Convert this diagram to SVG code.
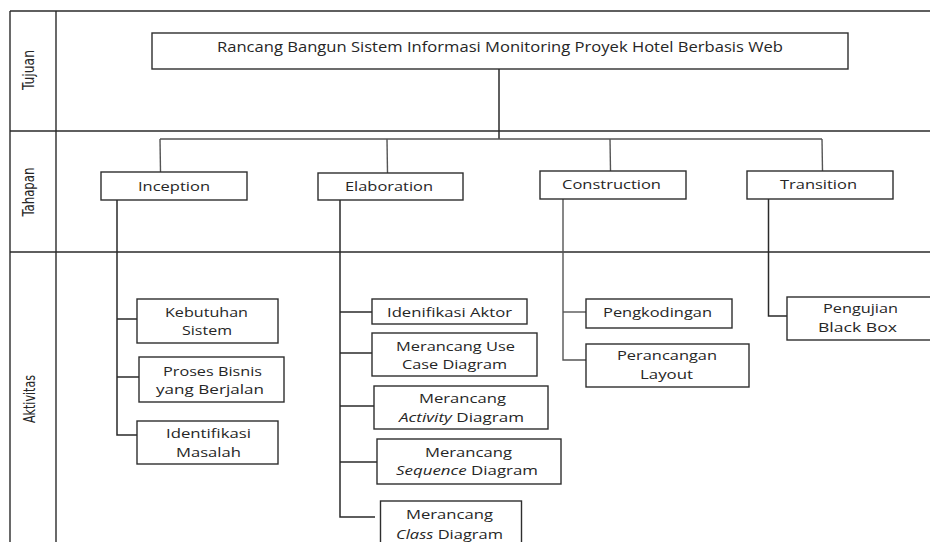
<svg xmlns="http://www.w3.org/2000/svg" width="930" height="542" viewBox="0 0 930 542">
  <style>
    .frame { stroke: #2a2a2a; stroke-width: 1.4; fill: none; }
    .box { fill: #ffffff; stroke: #2e2e2e; stroke-width: 1.4; }
    .wire { stroke: #2a2a2a; stroke-width: 1.5; fill: none; }
    .bus { stroke: #555555; stroke-width: 1.4; fill: none; }
    .t { font-family: "Open Sans", "Liberation Sans", sans-serif; font-size: 13px; fill: #262626; text-anchor: middle; }
    .title { font-size: 14px; }
    .row { font-family: "Liberation Sans Narrow", "DejaVu Sans Condensed", "Liberation Sans", sans-serif; font-size: 15px; fill: #262626; text-anchor: middle; }
    .i { font-style: italic; }
  </style>

  <rect x="0" y="0" width="930" height="542" fill="#ffffff"/>

  <!-- swimlane frame -->
  <g id="frame">
    <line class="frame" x1="10" y1="11" x2="930" y2="11"/>
    <line class="frame" x1="10" y1="11" x2="10" y2="542"/>
    <line class="frame" x1="56" y1="11" x2="56" y2="542"/>
    <line class="frame" x1="10" y1="131" x2="930" y2="131"/>
    <line class="frame" x1="10" y1="252" x2="930" y2="252"/>
    <text class="row" transform="translate(34,70) rotate(-90)" textLength="40" lengthAdjust="spacingAndGlyphs">Tujuan</text>
    <text class="row" transform="translate(34,192) rotate(-90)" textLength="49" lengthAdjust="spacingAndGlyphs">Tahapan</text>
    <text class="row" transform="translate(35,399) rotate(-90)" textLength="48" lengthAdjust="spacingAndGlyphs">Aktivitas</text>
  </g>

  <!-- connectors -->
  <g id="connectors">
    <line class="wire" x1="499" y1="69" x2="499" y2="139"/>
    <line class="bus" x1="160" y1="139" x2="822" y2="139"/>
    <line class="bus" x1="160" y1="139" x2="160.5" y2="172"/>
    <line class="bus" x1="387" y1="139" x2="387.5" y2="173"/>
    <line class="bus" x1="610" y1="139" x2="610.5" y2="171"/>
    <line class="bus" x1="822" y1="139" x2="822.5" y2="171"/>

    <polyline class="wire" points="117,200 117,435 137,435"/>
    <line class="wire" x1="117" y1="319" x2="137" y2="319"/>
    <line class="wire" x1="117" y1="377" x2="139" y2="377"/>

    <polyline class="wire" points="340,200 340,517 375,517"/>
    <line class="wire" x1="340" y1="312" x2="372" y2="312"/>
    <line class="wire" x1="340" y1="353" x2="372" y2="353"/>
    <line class="wire" x1="340" y1="406" x2="374" y2="406"/>
    <line class="wire" x1="340" y1="462" x2="377" y2="462"/>

    <polyline class="bus" points="563,199 563,360 586,360"/>
    <line class="bus" x1="563" y1="312" x2="586" y2="312"/>

    <polyline class="wire" points="768.5,199 768.5,316 787,316"/>
  </g>

  <!-- goal -->
  <g id="goal">
    <rect class="box" x="152" y="33" width="696" height="36"/>
    <text class="t title" x="500" y="51.5" textLength="566" lengthAdjust="spacingAndGlyphs">Rancang Bangun Sistem Informasi Monitoring Proyek Hotel Berbasis Web</text>
  </g>

  <!-- phases -->
  <g id="inception">
    <rect class="box" x="101" y="172" width="146" height="28"/>
    <text class="t" x="174" y="190.5" textLength="72" lengthAdjust="spacingAndGlyphs">Inception</text>
  </g>
  <g id="elaboration">
    <rect class="box" x="318" y="173" width="145" height="27"/>
    <text class="t" x="389" y="190.5" textLength="88" lengthAdjust="spacingAndGlyphs">Elaboration</text>
  </g>
  <g id="construction">
    <rect class="box" x="540" y="171" width="146" height="28"/>
    <text class="t" x="611.5" y="188.5" textLength="99" lengthAdjust="spacingAndGlyphs">Construction</text>
  </g>
  <g id="transition">
    <rect class="box" x="747" y="171" width="146" height="28"/>
    <text class="t" x="818.5" y="188.5" textLength="77" lengthAdjust="spacingAndGlyphs">Transition</text>
  </g>

  <!-- inception activities -->
  <g id="kebutuhan-sistem">
    <rect class="box" x="137" y="299" width="141" height="44"/>
    <text class="t" x="206.5" y="316.7" textLength="83" lengthAdjust="spacingAndGlyphs">Kebutuhan</text>
    <text class="t" x="207" y="335" textLength="50" lengthAdjust="spacingAndGlyphs">Sistem</text>
  </g>
  <g id="proses-bisnis">
    <rect class="box" x="139" y="357" width="145" height="45"/>
    <text class="t" x="212.5" y="375.7" textLength="99" lengthAdjust="spacingAndGlyphs">Proses Bisnis</text>
    <text class="t" x="210" y="394" textLength="108" lengthAdjust="spacingAndGlyphs">yang Berjalan</text>
  </g>
  <g id="identifikasi-masalah">
    <rect class="box" x="137" y="421" width="141" height="43"/>
    <text class="t" x="208.5" y="438.3" textLength="85" lengthAdjust="spacingAndGlyphs">Identifikasi</text>
    <text class="t" x="208.5" y="456.7" textLength="65" lengthAdjust="spacingAndGlyphs">Masalah</text>
  </g>

  <!-- elaboration activities -->
  <g id="identifikasi-aktor">
    <rect class="box" x="372" y="299" width="155" height="25"/>
    <text class="t" x="449.5" y="316.7" textLength="125" lengthAdjust="spacingAndGlyphs">Idenifikasi Aktor</text>
  </g>
  <g id="use-case">
    <rect class="box" x="372" y="333" width="165" height="43"/>
    <text class="t" x="455.5" y="351" textLength="119" lengthAdjust="spacingAndGlyphs">Merancang Use</text>
    <text class="t" x="454.5" y="369.3" textLength="105" lengthAdjust="spacingAndGlyphs">Case Diagram</text>
  </g>
  <g id="activity">
    <rect class="box" x="374" y="386" width="174" height="43"/>
    <text class="t" x="462.5" y="402.7" textLength="87" lengthAdjust="spacingAndGlyphs">Merancang</text>
    <text class="t" x="461.5" y="421.7" textLength="125" lengthAdjust="spacingAndGlyphs"><tspan class="i">Activity</tspan> Diagram</text>
  </g>
  <g id="sequence">
    <rect class="box" x="377" y="439" width="184" height="45"/>
    <text class="t" x="468.5" y="456.7" textLength="87" lengthAdjust="spacingAndGlyphs">Merancang</text>
    <text class="t" x="467" y="475" textLength="142" lengthAdjust="spacingAndGlyphs"><tspan class="i">Sequence</tspan> Diagram</text>
  </g>
  <g id="class">
    <rect class="box" x="380.5" y="501" width="141" height="50"/>
    <text class="t" x="449.5" y="518.7" textLength="87" lengthAdjust="spacingAndGlyphs">Merancang</text>
    <text class="t" x="449.5" y="538.5" textLength="107" lengthAdjust="spacingAndGlyphs"><tspan class="i">Class</tspan> Diagram</text>
  </g>

  <!-- construction activities -->
  <g id="pengkodingan">
    <rect class="box" x="586" y="299" width="146" height="29"/>
    <text class="t" x="657.5" y="316.7" textLength="109" lengthAdjust="spacingAndGlyphs">Pengkodingan</text>
  </g>
  <g id="perancangan-layout">
    <rect class="box" x="586" y="344" width="163" height="43"/>
    <text class="t" x="667" y="360" textLength="100" lengthAdjust="spacingAndGlyphs">Perancangan</text>
    <text class="t" x="666.5" y="379.3" textLength="53" lengthAdjust="spacingAndGlyphs">Layout</text>
  </g>

  <!-- transition activity -->
  <g id="pengujian">
    <rect class="box" x="787" y="297" width="150" height="43"/>
    <text class="t" x="860.5" y="312.7" textLength="75" lengthAdjust="spacingAndGlyphs">Pengujian</text>
    <text class="t" x="857.5" y="331.7" textLength="79" lengthAdjust="spacingAndGlyphs">Black Box</text>
  </g>
</svg>
